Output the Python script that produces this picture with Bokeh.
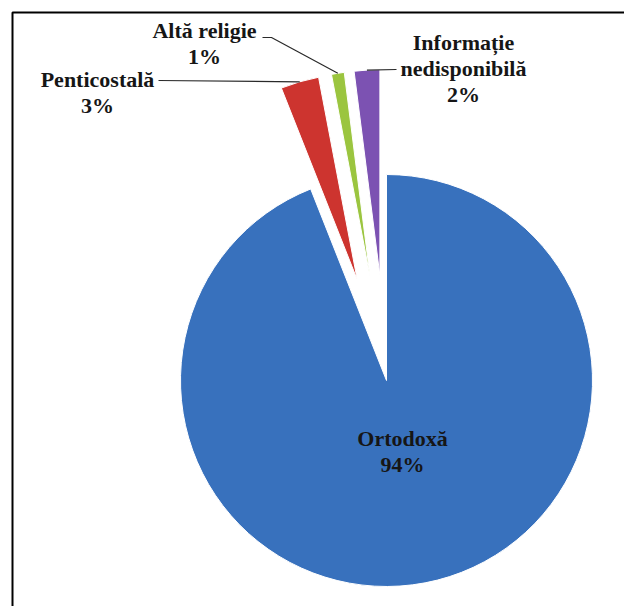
import math
from bokeh.plotting import figure
from bokeh.models import Range1d
from bokeh.core.properties import value
from bokeh.embed import file_html
from bokeh.resources import INLINE

# ---- data ----
categories = ["Ortodoxă", "Penticostală", "Altă religie", "Informație nedisponibilă"]
shares = [94, 3, 1, 2]
name_lines = [["Ortodoxă"], ["Penticostală"], ["Altă religie"], ["Informație", "nedisponibilă"]]

# ---- style / layout ----
colors = ["#3871BD", "#CD342F", "#9BC53F", "#7C52B2"]
explode = [0.0, 0.51, 0.51, 0.51]

CX, CY, R = 386, 380, 206      # pie centre / radius in page pixels
W, H, OFF = 624, 606, 0

def d(xp, yp):
    """page pixel -> data units"""
    return (xp - CX) / R, (CY - yp) / R

# label anchor (centre x, baseline of first line) in page pixels
label_pos = [(402, 438), (97, 79), (204, 30), (463, 42)]
LINE_STEP = 26
# leader line start points (page px), ending at slice outer edge
leader_start = [None, [(158, 80)], [(262, 37), (271, 37)], [(396, 69)]]

p = figure(width=W, height=H, output_backend="svg", toolbar_location=None,
           x_axis_type=None, y_axis_type=None,
           min_border_left=0, min_border_right=0, min_border_top=0, min_border_bottom=0,
           x_range=Range1d((OFF - CX) / R, (OFF + W - CX) / R),
           y_range=Range1d((CY - OFF - H) / R, (CY - OFF) / R))
p.grid.visible = False
p.outline_line_color = None
p.background_fill_color = "white"
p.border_fill_color = "white"

total = float(sum(shares))
cum = 0.0
xs, ys, a0s, a1s, mids = [], [], [], [], []
for s, e in zip(shares, explode):
    a0 = math.pi / 2 - 2 * math.pi * cum / total
    a1 = math.pi / 2 - 2 * math.pi * (cum + s) / total
    mid = (a0 + a1) / 2
    xs.append(e * math.cos(mid))
    ys.append(e * math.sin(mid))
    a0s.append(a0)
    a1s.append(a1)
    mids.append(mid)
    cum += s

p.wedge(x=xs, y=ys, radius=1.0, start_angle=a0s, end_angle=a1s, direction="clock",
        fill_color=colors, line_color="white", line_width=1)

# leader lines
lx, ly = [], []
for i, pts in enumerate(leader_start):
    if pts is None:
        continue
    px_ = [d(*q)[0] for q in pts]
    py_ = [d(*q)[1] for q in pts]
    px_.append(xs[i] + math.cos(mids[i]))
    py_.append(ys[i] + math.sin(mids[i]))
    lx.append(px_)
    ly.append(py_)
p.multi_line(xs=lx, ys=ly, line_color="#2a2a2a", line_width=1.2)

# labels
tx, ty, tt = [], [], []
for i, (nm, s) in enumerate(zip(name_lines, shares)):
    cx, by = label_pos[i]
    lines = nm + [f"{s}%"]
    for k, t in enumerate(lines):
        x_, y_ = d(cx, by + k * LINE_STEP)
        tx.append(x_)
        ty.append(y_)
        tt.append(t)
p.text(x=tx, y=ty, text=tt, text_align="center", text_baseline="alphabetic",
       text_font=value("Liberation Serif"), text_font_style="bold",
       text_font_size="22px", text_color="#161616")

# frame (left and top edges)
fx = [d(12, OFF + H)[0], d(12, 12)[0], d(OFF + W, 12)[0]]
fy = [d(12, OFF + H)[1], d(12, 12)[1], d(OFF + W, 12)[1]]
p.line(fx, fy, line_color="black", line_width=2)

open("out.html", "w").write(file_html(p, INLINE))
